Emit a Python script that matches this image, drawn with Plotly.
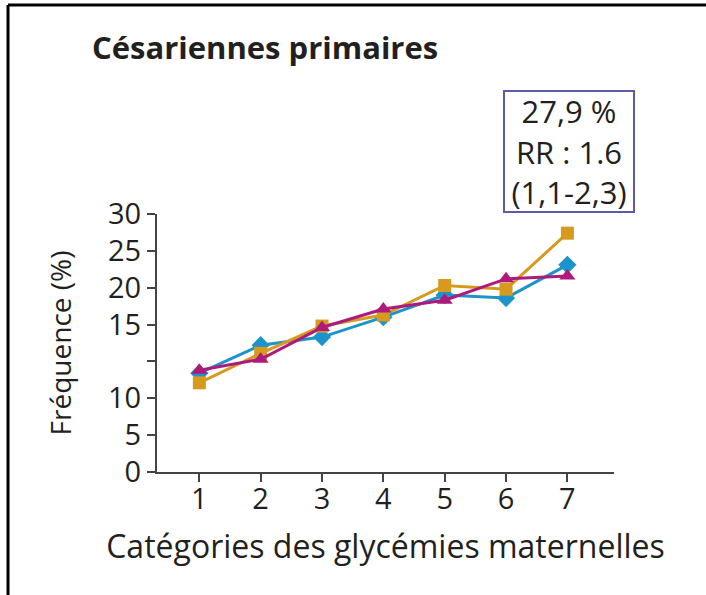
import plotly.graph_objects as go

# catégories de glycémie maternelle
categories = [1, 2, 3, 4, 5, 6, 7]

# fréquences (%)
serie_orange = [7.1, 11.1, 14.8, 16.3, 20.3, 19.8, 27.4]
serie_bleue = [8.4, 12.2, 13.3, 16.0, 19.0, 18.6, 23.1]
serie_magenta = [8.8, 10.3, 14.6, 17.1, 18.3, 21.2, 21.6]

# graduations de l'axe vertical (telles qu'imprimées)
y_ticks = [-5, 0, 5, 10, 15, 20, 25, 30]
y_labels = ["0", "5", "10", "", "15", "20", "25", "30"]

ink = "#231F20"
font_name = "Open Sans"

fig = go.Figure()

fig.add_trace(go.Scatter(
    x=categories, y=serie_bleue, mode="lines+markers",
    line=dict(color="#1C93C9", width=3),
    marker=dict(symbol="diamond", size=14, color="#1C93C9"),
))
fig.add_trace(go.Scatter(
    x=categories, y=serie_orange, mode="lines+markers",
    line=dict(color="#D69A1E", width=3),
    marker=dict(symbol="square", size=13, color="#D69A1E"),
))
fig.add_trace(go.Scatter(
    x=categories, y=serie_magenta, mode="lines+markers",
    line=dict(color="#AE1A7C", width=3),
    marker=dict(symbol="triangle-up", size=14, color="#AE1A7C"),
))

fig.update_xaxes(
    range=[0.31, 7.76], tickvals=categories, automargin=False,
    showline=True, linecolor="#444", linewidth=2,
    ticks="outside", ticklen=8, tickwidth=2, tickcolor="#444",
    showgrid=False, zeroline=False, ticklabelstandoff=-8,
    tickfont=dict(family=font_name, size=29, color=ink),
    title=dict(text="Catégories des glycémies maternelles",
               font=dict(family=font_name, size=32, color=ink), standoff=20),
)
fig.update_yaxes(
    range=[-5, 30], tickvals=y_ticks, ticktext=y_labels, automargin=False,
    showline=True, linecolor="#444", linewidth=2,
    ticks="outside", ticklen=8, tickwidth=2, tickcolor="#444",
    showgrid=False, zeroline=False,
    tickfont=dict(family=font_name, size=29, color=ink),
    title=dict(text="Fréquence (%)",
               font=dict(family=font_name, size=28, color=ink), standoff=28),
)

fig.update_layout(
    width=706, height=595,
    margin=dict(l=157, r=92, t=214, b=123),
    paper_bgcolor="white", plot_bgcolor="white",
    showlegend=False,
    annotations=[
        dict(text="<b>Césariennes primaires</b>", xref="paper", yref="paper",
             x=-0.147, y=1.647, xanchor="left", yanchor="middle", showarrow=False,
             font=dict(family=font_name, size=31, color=ink)),
        dict(text="27,9 %<br>RR : 1.6<br>(1,1-2,3)", xref="paper", yref="paper",
             x=0.9015, y=1.242, xanchor="center", yanchor="middle", showarrow=False,
             width=128, height=119, borderpad=0, borderwidth=2,
             bordercolor="#5B5BA8", bgcolor="white",
             font=dict(family=font_name, size=31, color=ink)),
    ],
    shapes=[
        dict(type="line", xref="paper", yref="paper", x0=-0.326, x1=1.5,
             y0=1.81, y1=1.81, line=dict(color="black", width=3)),
        dict(type="line", xref="paper", yref="paper", x0=-0.326, x1=-0.326,
             y0=1.81, y1=-0.5, line=dict(color="black", width=3)),
    ],
)

fig.write_html("out.html", config={"displayModeBar": False},
               post_script="document.body.style.margin = '0px';")
